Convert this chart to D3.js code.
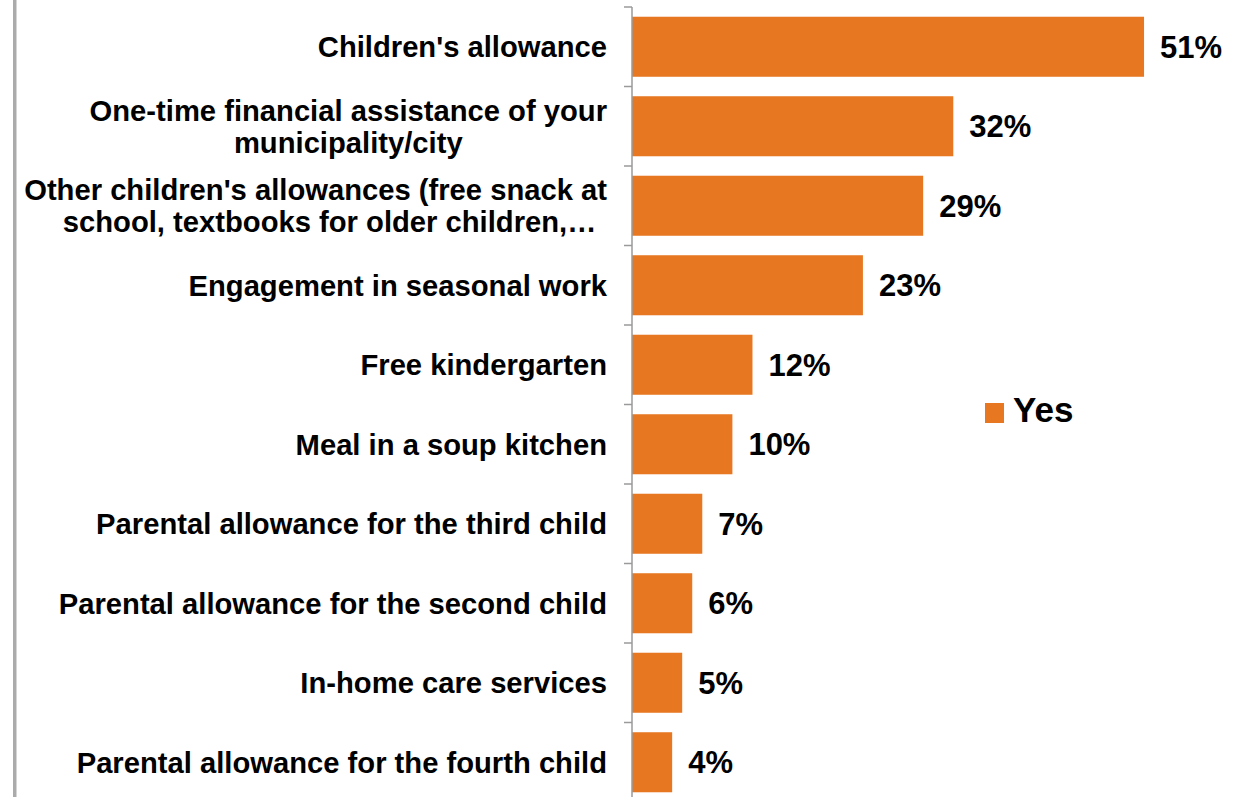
<!DOCTYPE html>
<html>
<head>
<meta charset="utf-8">
<script src="https://cdn.jsdelivr.net/npm/d3@7"></script>
<style>
  html, body { margin: 0; padding: 0; background: #fff; }
  svg { display: block; }
  text { font-family: Arial, "Liberation Sans", sans-serif; font-weight: bold; fill: #000; }
</style>
</head>
<body>
<svg id="chart" width="1239" height="797"></svg>
<script>
// Categories (top to bottom); "\n" marks a wrapped line
const categories = [
  "Children's allowance",
  "One-time financial assistance of your\nmunicipality/city",
  "Other children's allowances (free snack at\nschool, textbooks for older children,…",
  "Engagement in seasonal work",
  "Free kindergarten",
  "Meal in a soup kitchen",
  "Parental allowance for the third child",
  "Parental allowance for the second child",
  "In-home care services",
  "Parental allowance for the fourth child"
];
const yesValues = [51, 32, 29, 23, 12, 10, 7, 6, 5, 4];
const seriesName = "Yes";

const svg = d3.select("#chart");
const W = 1239, H = 797;
const axisX = 632;
const barColor = "#E87722";

// Frame line on the left edge
svg.append("rect")
  .attr("x", 13).attr("y", 0)
  .attr("width", 3.5).attr("height", H)
  .attr("fill", "#ababab");

const x = d3.scaleLinear().domain([0, 60]).range([axisX, axisX + 602.4]);
const y = d3.scaleBand()
  .domain(categories)
  .range([7, 802])
  .paddingInner(0.245)
  .paddingOuter(0.1225);

const step = y.step();
const gap = step * 0.245;

// Bars
svg.append("g").selectAll("rect")
  .data(categories)
  .join("rect")
  .attr("x", x(0))
  .attr("y", d => y(d))
  .attr("width", (d, i) => x(yesValues[i]) - x(0))
  .attr("height", y.bandwidth())
  .attr("fill", barColor);

// Category axis: line plus ticks between categories
const axisG = svg.append("g");
axisG.append("line")
  .attr("x1", axisX).attr("x2", axisX)
  .attr("y1", y.range()[0]).attr("y2", H)
  .attr("stroke", "#9a9a9a").attr("stroke-width", 1.5);
const tickYs = categories.map(d => y(d) - gap / 2).concat([y(categories[categories.length - 1]) + y.bandwidth() + gap / 2]);
axisG.selectAll("line.tick")
  .data(tickYs)
  .join("line")
  .attr("class", "tick")
  .attr("x1", axisX - 8).attr("x2", axisX)
  .attr("y1", d => d).attr("y2", d => d)
  .attr("stroke", "#9a9a9a").attr("stroke-width", 1.5);

// Category labels (multi-line labels are centred within their block, block right-aligned)
const labelSize = 29.2;
const lineGap = 32;
const labelRight = 607;
const labelG = svg.append("g");
categories.forEach(cat => {
  const lines = cat.split("\n");
  const cy = y(cat) + y.bandwidth() / 2;
  const t = labelG.append("text")
    .attr("font-size", labelSize);
  if (lines.length === 1) {
    t.attr("x", labelRight).attr("y", cy).attr("dy", "0.36em")
      .attr("text-anchor", "end").text(lines[0]);
  } else {
    // measure widest line to find the block centre
    const widths = lines.map(l => {
      const m = labelG.append("text").attr("font-size", labelSize).text(l);
      const w = m.node().getComputedTextLength();
      m.remove();
      return w;
    });
    const maxW = d3.max(widths);
    const centerX = labelRight - maxW / 2;
    t.attr("text-anchor", "middle");
    lines.forEach((l, k) => {
      t.append("tspan")
        .attr("x", centerX + (k > 0 && l.endsWith("…") ? 14 : 0))
        .attr("y", cy + (k - (lines.length - 1) / 2) * lineGap)
        .attr("dy", "0.36em")
        .text(l);
    });
  }
});

// Value labels
svg.append("g").selectAll("text")
  .data(categories)
  .join("text")
  .attr("x", (d, i) => x(yesValues[i]) + 16)
  .attr("y", d => y(d) + y.bandwidth() / 2)
  .attr("dy", "0.36em")
  .attr("font-size", 31)
  .text((d, i) => yesValues[i] + "%");

// Legend
const legend = svg.append("g");
legend.append("rect")
  .attr("x", 985).attr("y", 403)
  .attr("width", 19).attr("height", 20)
  .attr("fill", barColor);
legend.append("text")
  .attr("x", 1013).attr("y", 422)
  .attr("font-size", 35)
  .text(seriesName);
</script>
</body>
</html>
